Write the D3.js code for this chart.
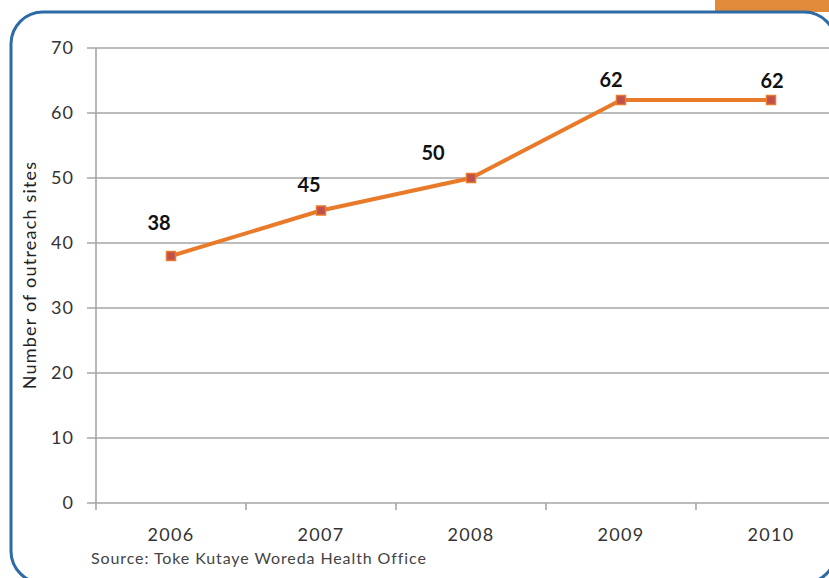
<!DOCTYPE html>
<html><head><meta charset="utf-8">
<script src="https://cdn.jsdelivr.net/npm/d3@7"></script>
<style>html,body{margin:0;padding:0;background:#fff;overflow:hidden}</style>
</head><body>
<svg id="c" width="829" height="578"></svg>
<script>
const years = ["2006","2007","2008","2009","2010"];
const sites = [38, 45, 50, 62, 62];
const yTicks = [0,10,20,30,40,50,60,70];
const labelShift = [[-12,-26],[-12,-19],[-38,-18],[-10,-13],[1,-12]];

const svg = d3.select("#c");
svg.append("rect").attr("x",715).attr("y",0).attr("width",114).attr("height",12).attr("fill","#e08a3a");
svg.append("rect").attr("x",11).attr("y",12).attr("width",825).attr("height",571).attr("rx",32)
  .attr("fill","#fff").attr("stroke","#2e6aa6").attr("stroke-width",3);

const x = d3.scaleBand().domain(years).range([96,846]);
const y = d3.scaleLinear().domain([0,70]).range([503,48]);

const g = svg.append("g");
g.selectAll("line.grid").data(yTicks).join("line")
  .attr("x1",87).attr("x2",829).attr("y1",d=>y(d)).attr("y2",d=>y(d))
  .attr("stroke","#a6a6a6").attr("stroke-width",1.6);
g.append("line").attr("x1",96).attr("x2",96).attr("y1",y(70)).attr("y2",y(0)+7)
  .attr("stroke","#a6a6a6").attr("stroke-width",1.6);
const bounds = years.slice(1).map(d=>x(d));
g.selectAll("line.xt").data(bounds).join("line")
  .attr("x1",d=>d).attr("x2",d=>d).attr("y1",y(0)).attr("y2",y(0)+7)
  .attr("stroke","#a6a6a6").attr("stroke-width",1.6);
g.selectAll("text.yt").data(yTicks).join("text")
  .attr("x",74).attr("y",d=>y(d)).attr("dy","0.35em").attr("text-anchor","end")
  .attr("font-family","Lato, sans-serif").attr("font-size",18).attr("letter-spacing",1).attr("fill","#333")
  .text(d=>d);
g.selectAll("text.xl").data(years).join("text")
  .attr("x",d=>x(d)+x.bandwidth()/2).attr("y",541).attr("text-anchor","middle")
  .attr("font-family","Lato, sans-serif").attr("font-size",18).attr("letter-spacing",1.3).attr("fill","#333")
  .text(d=>d);
svg.append("text").attr("transform","translate(36,275) rotate(-90)").attr("text-anchor","middle")
  .attr("font-family","Lato, sans-serif").attr("font-size",18).attr("letter-spacing",1.2).attr("fill","#222")
  .text("Number of outreach sites");
svg.append("text").attr("x",91).attr("y",564)
  .attr("font-family","Lato, sans-serif").attr("font-size",16).attr("letter-spacing",0.9).attr("fill","#444")
  .text("Source: Toke Kutaye Woreda Health Office");

const cx = (d,i)=>x(years[i])+x.bandwidth()/2;
const line = d3.line().x((d,i)=>cx(d,i)).y(d=>y(d));
g.append("path").datum(sites).attr("d",line).attr("fill","none")
  .attr("stroke","#e87a2a").attr("stroke-width",4);
g.selectAll("rect.m").data(sites).join("rect")
  .attr("x",(d,i)=>cx(d,i)-4.5).attr("y",d=>y(d)-4.5).attr("width",9).attr("height",9)
  .attr("fill","#c0504d").attr("stroke","#e87a2a").attr("stroke-width",1.5);
g.selectAll("text.dl").data(sites).join("text")
  .attr("x",(d,i)=>cx(d,i)+labelShift[i][0]).attr("y",(d,i)=>y(d)+labelShift[i][1])
  .attr("text-anchor","middle").attr("font-family","Lato, sans-serif").attr("font-weight","bold")
  .attr("font-size",20).attr("fill","#111").text(d=>d);
</script>
</body></html>
